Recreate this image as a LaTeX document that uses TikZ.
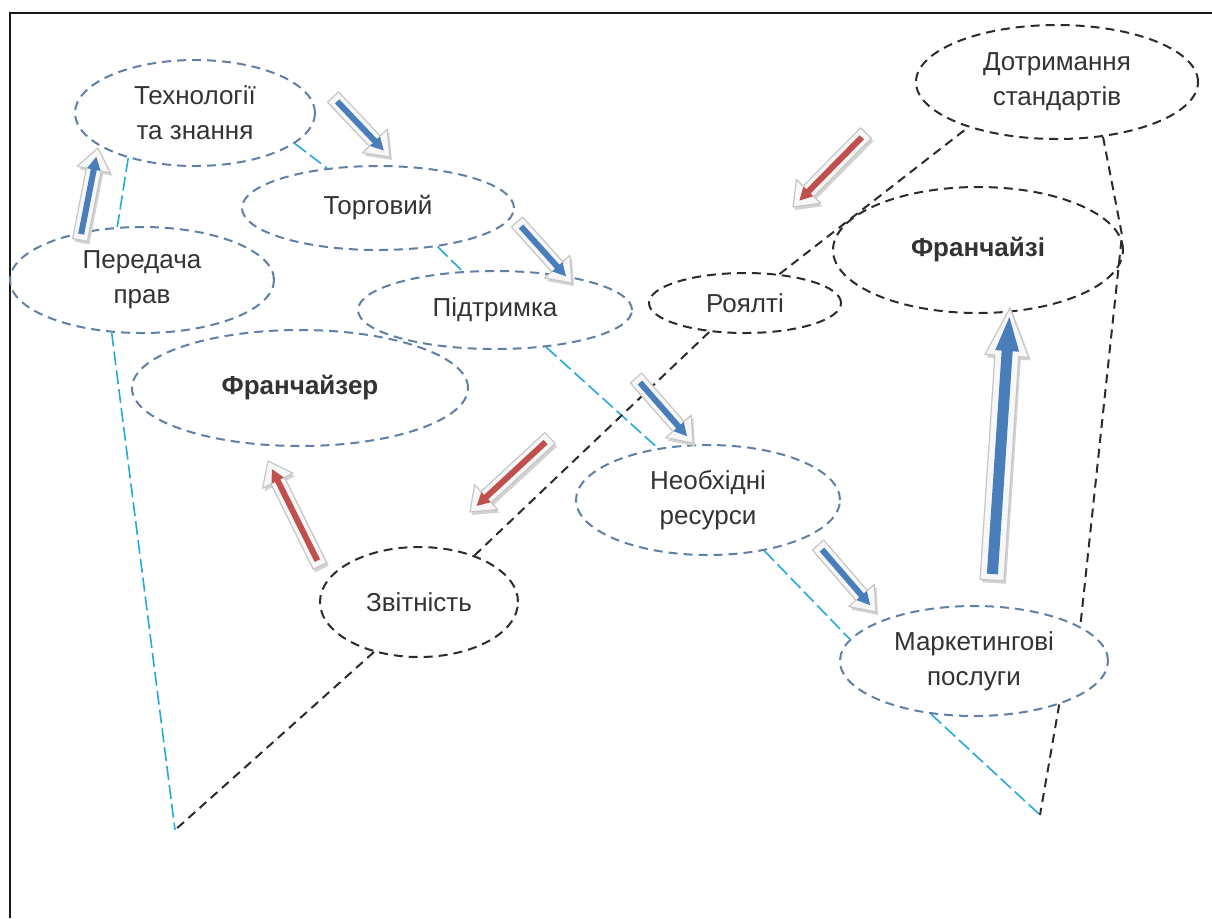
\documentclass[tikz,border=0pt]{standalone}
\usepackage{fontspec}
\setmainfont{Liberation Sans}
\usetikzlibrary{shapes.geometric}
\definecolor{ellblue}{HTML}{5F7FA6}
\definecolor{ellblack}{HTML}{2B2B2B}
\definecolor{cyanline}{HTML}{23A9DC}
\definecolor{arrblue}{HTML}{4A7EBB}
\definecolor{arrred}{HTML}{C0504D}
\definecolor{txt}{HTML}{333333}
\newcommand\fatarrow[5]{%
\begin{scope}[shift={(#1+2,#2+3)},rotate=#3]
\fill[gray!35] (0,-\AS) -- ({#4-\AL},-\AS) -- ({#4-\AL},-\AH) -- (#4,0) -- ({#4-\AL},\AH) -- ({#4-\AL},\AS) -- (0,\AS) -- cycle;
\end{scope}
\begin{scope}[shift={(#1,#2)},rotate=#3]
\filldraw[fill=gray!6, draw=gray!45, line width=0.6pt, line join=round] (0,-\AS) -- ({#4-\AL},-\AS) -- ({#4-\AL},-\AH) -- (#4,0) -- ({#4-\AL},\AH) -- ({#4-\AL},\AS) -- (0,\AS) -- cycle;
\fill[#5] (6,-\IS) -- ({#4-9-\IL},-\IS) -- ({#4-9-\IL},-\IH) -- ({#4-9},0) -- ({#4-9-\IL},\IH) -- ({#4-9-\IL},\IS) -- (6,\IS) -- cycle;
\end{scope}}
\newcommand\smallsizes{\def\AS{7.5}\def\AH{17}\def\AL{22}\def\IS{3}\def\IH{7}\def\IL{13}}
\newcommand\bigsizes{\def\AS{12}\def\AH{22}\def\AL{48}\def\IS{5.5}\def\IH{12}\def\IL{34}}
\begin{document}
\begin{tikzpicture}[x=0.5pt,y=-0.5pt,
  ell/.style={ellipse, inner sep=0pt, align=center, text=txt,
    font=\fontsize{13}{17.5}\selectfont, line width=1pt,
    dash pattern=on 4.5pt off 3pt},
  bluell/.style={ell, draw=ellblue},
  blackell/.style={ell, draw=ellblack},
  cyanl/.style={draw=cyanline, line width=0.8pt, dash pattern=on 7pt off 2.5pt},
  blackl/.style={draw=ellblack, line width=1pt, dash pattern=on 4.5pt off 3pt}]
\useasboundingbox (0,0) rectangle (1212,918);
\draw[gray!20!black, line width=1pt] (10,918) -- (10,13) -- (1212,13);

\node[bluell, minimum width=120pt, minimum height=53pt] (tech) at (195,113) {Технології\\та знання};
\node[bluell, minimum width=132pt, minimum height=53pt] (pered) at (142,280) {Передача\\прав};
\node[bluell, minimum width=136pt, minimum height=42pt] (torg) at (378,208) {Торговий};
\node[bluell, minimum width=137pt, minimum height=39pt] (pidt) at (495,310) {Підтримка};
\node[bluell, minimum width=168pt, minimum height=58pt, font=\fontsize{13}{17.5}\selectfont\bfseries] (franchr) at (300,388) {Франчайзер};
\node[bluell, minimum width=132pt, minimum height=55pt] (res) at (708,500) {Необхідні\\ресурси};
\node[bluell, minimum width=134pt, minimum height=55pt] (mark) at (974,661) {Маркетингові\\послуги};
\node[blackell, minimum width=99pt, minimum height=55pt] (zvit) at (419,602) {Звітність};
\node[blackell, minimum width=96pt, minimum height=30pt] (royal) at (745,303) {Роялті};
\node[blackell, minimum width=145pt, minimum height=63pt, font=\fontsize{13}{17.5}\selectfont\bfseries] (franchi) at (978,250) {Франчайзі};
\node[blackell, minimum width=141pt, minimum height=57pt] (dotr) at (1057,82) {Дотримання\\стандартів};

\coordinate (L) at (175,830);
\coordinate (R) at (1040,815);
\coordinate (K) at (1122,235);

\draw[cyanl] (tech.214) -- (pered.115);
\draw[cyanl] (tech.-17) -- (torg.142);
\draw[cyanl] (torg.-33) -- (pidt.130);
\draw[cyanl] (pidt.-36) -- (res.134);
\draw[cyanl] (res.-42) -- (mark.170);
\draw[cyanl] (mark.231) -- (R);
\draw[cyanl] (pered.240) -- (L);
\draw[blackl] (zvit.228) -- (L);
\draw[blackl] (zvit.40) -- (royal.219);
\draw[blackl] (royal.40) -- (dotr.207);
\draw[blackl] (dotr.-50) -- (K) -- (mark.18);
\draw[blackl] (mark.-27) -- (R);

\smallsizes
\fatarrow{80}{240}{78.93}{93.74}{arrblue}
\fatarrow{333}{97}{-46.47}{82.76}{arrblue}
\fatarrow{517}{222}{-47.96}{82.13}{arrblue}
\fatarrow{636}{378}{-48.75}{86.45}{arrblue}
\fatarrow{818}{545}{-49.12}{88.62}{arrblue}
\fatarrow{866}{133}{-134.61}{103.9}{arrred}
\fatarrow{550}{438}{-137.23}{109.0}{arrred}
\fatarrow{320}{566}{116.35}{117.2}{arrred}
\bigsizes
\fatarrow{992}{580}{86.21}{272.6}{arrblue}
\end{tikzpicture}
\end{document}
